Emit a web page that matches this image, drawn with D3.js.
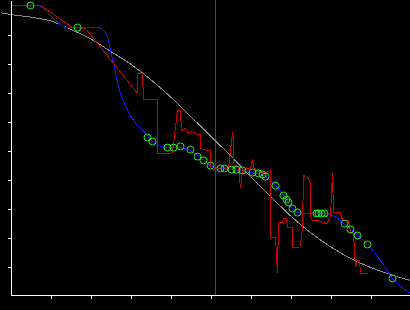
<!DOCTYPE html>
<html>
<head>
<meta charset="utf-8">
<script src="https://cdn.jsdelivr.net/npm/d3@7"></script>
<style>
  html, body { margin: 0; padding: 0; background: #000; }
  svg { display: block; }
  svg path, svg line { shape-rendering: crispEdges; }
</style>
</head>
<body>
<div id="chart"></div>
<script>
// gray smooth reference curve
var grayX = [-0.25, 0, 0.5, 1, 1.5, 2, 2.5, 3, 3.5, 4, 4.5, 5, 5.5, 6, 6.5, 7, 7.5, 8, 8.5, 9, 9.5, 10];
var grayY = [9.75, 9.69, 9.6, 9.47, 9.18, 8.85, 8.42, 7.98, 7.45, 6.85, 6.18, 5.5, 4.82, 4.1, 3.42, 2.75, 2.17, 1.68, 1.28, 0.97, 0.72, 0.52];

// blue fitted curve
var blueX = [0, 0.68, 1.0, 1.25, 1.4, 2.18, 2.25, 2.33, 2.43, 2.5, 2.58, 2.68, 2.75, 2.93, 3.08, 3.38, 3.55, 3.93, 4.25, 4.5, 4.68, 5.0, 5.25, 5.58, 6.0, 6.33, 6.63, 6.83, 7.05, 7.18, 7.43, 7.83, 8.18, 8.33, 8.68, 8.93, 9.25, 9.55, 10];
var blueY = [10, 10, 9.66, 9.34, 9.24, 9.24, 9.21, 9.14, 8.9, 8.45, 8.0, 7.31, 6.97, 6.38, 6.03, 5.59, 5.31, 5.1, 5.1, 5.0, 4.83, 4.48, 4.38, 4.34, 4.24, 4.14, 3.79, 3.45, 3.0, 2.86, 2.83, 2.83, 2.66, 2.48, 2.07, 1.76, 1.21, 0.59, 0.07];

// red raw signal
var redX = [0.25, 0.75, 1.55, 1.875, 3.175, 3.175, 3.3, 3.325, 3.675, 3.675, 4.0, 4.05, 4.175, 4.25, 4.275, 4.375, 4.45, 4.55, 4.65, 4.75, 4.75, 4.925, 5.0, 5.0, 5.075, 5.125, 5.2, 5.3, 5.45, 5.5, 5.55, 5.575, 5.575, 5.7, 5.75, 5.8, 5.9, 6.0, 6.05, 6.075, 6.175, 6.25, 6.375, 6.5, 6.5, 6.625, 6.675, 6.7, 6.8, 6.825, 6.9, 6.925, 7.05, 7.05, 7.2, 7.25, 7.3, 7.325, 7.45, 7.5, 7.5, 7.55, 7.7, 7.8, 7.925, 8.0, 8.05, 8.075, 8.25, 8.3, 8.45, 8.5, 8.575, 8.625, 8.675, 8.725, 8.75, 8.925];
var redY = [10.0, 10.0, 9.24, 9.21, 6.97, 7.66, 7.66, 6.76, 6.76, 4.9, 4.9, 4.93, 6.38, 6.38, 5.69, 5.76, 5.59, 5.66, 5.55, 5.55, 5.07, 5.0, 5.0, 4.41, 4.31, 4.45, 4.38, 4.41, 4.38, 5.0, 5.62, 5.34, 4.55, 4.41, 3.72, 4.31, 4.38, 4.38, 4.72, 4.41, 4.31, 4.24, 4.24, 4.31, 2.0, 2.0, 0.76, 2.52, 2.52, 2.66, 2.66, 2.34, 2.34, 1.66, 1.66, 1.72, 2.34, 4.14, 4.03, 3.86, 2.69, 2.59, 2.59, 2.52, 2.48, 2.76, 4.24, 2.86, 2.86, 2.59, 2.59, 2.14, 2.14, 0.97, 1.21, 1.21, 0.76, 0.76];

// green markers
var markX = [0.5, 1.675, 3.425, 3.55, 3.925, 4.075, 4.25, 4.5, 4.675, 4.825, 5.0, 5.25, 5.35, 5.525, 5.65, 5.8, 6.05, 6.2, 6.3, 6.375, 6.625, 6.825, 6.9, 6.95, 7.05, 7.175, 7.65, 7.7, 7.775, 7.85, 8.35, 8.5, 8.675, 8.925, 9.55];
var markY = [10.0, 9.24, 5.45, 5.31, 5.1, 5.1, 5.14, 5.03, 4.79, 4.66, 4.48, 4.38, 4.38, 4.34, 4.34, 4.31, 4.24, 4.21, 4.17, 4.1, 3.79, 3.45, 3.31, 3.21, 3.0, 2.86, 2.83, 2.83, 2.83, 2.83, 2.48, 2.28, 2.07, 1.76, 0.59];

var xTicks = [1, 2, 3, 4, 5, 6, 7, 8, 9];
var yTicks = [1, 2, 3, 4, 5, 6, 7, 8, 9];
var markerLine = 5.125;

var W = 410, H = 310;
var x = d3.scaleLinear().domain([0, 10]).range([10.5, 410.5]);
var y = d3.scaleLinear().domain([0, 295 / 29]).range([295.5, 0.5]);

var svg = d3.select("#chart").append("svg")
  .attr("width", W)
  .attr("height", H);

svg.append("rect").attr("width", W).attr("height", H).attr("fill", "#000");

function pairs(xs, ys) {
  return xs.map(function(v, i) { return [v, ys[i]]; });
}

var smooth = d3.line()
  .x(function(d) { return x(d[0]); })
  .y(function(d) { return y(d[1]); })
  .curve(d3.curveMonotoneX);

var straight = d3.line()
  .x(function(d) { return x(d[0]); })
  .y(function(d) { return y(d[1]); });

// purple vertical marker
svg.append("line")
  .attr("x1", x(markerLine)).attr("x2", x(markerLine))
  .attr("y1", 0).attr("y2", y(0))
  .attr("stroke", "#8c10b4")
  .attr("stroke-width", 1);

svg.append("path")
  .attr("d", smooth(pairs(grayX, grayY)))
  .attr("fill", "none")
  .attr("stroke", "#8c8c8c")
  .attr("stroke-width", 1);

svg.append("path")
  .attr("d", smooth(pairs(blueX, blueY)))
  .attr("fill", "none")
  .attr("stroke", "#1414ff")
  .attr("stroke-width", 1);

svg.append("path")
  .attr("d", straight(pairs(redX, redY)))
  .attr("fill", "none")
  .attr("stroke", "#c80000")
  .attr("stroke-width", 1);

svg.selectAll("circle.mark")
  .data(pairs(markX, markY))
  .enter()
  .append("circle")
    .attr("class", "mark")
    .attr("cx", function(d) { return x(d[0]); })
    .attr("cy", function(d) { return y(d[1]); })
    .attr("r", 3.5)
    .attr("fill", "none")
    .attr("stroke", "#22ee22")
    .attr("stroke-width", 1);

// axes
var xAxis = svg.append("g")
  .attr("transform", "translate(0," + y(0) + ")")
  .call(d3.axisBottom(x).tickValues(xTicks).tickSize(3).tickSizeOuter(0).tickFormat(""));
var yAxis = svg.append("g")
  .attr("transform", "translate(" + x(0) + ",0)")
  .call(d3.axisLeft(y).tickValues(yTicks).tickSize(3).tickSizeOuter(0).tickFormat(""));

xAxis.select(".domain").attr("d", "M" + x(0) + ",0H" + W);
[xAxis, yAxis].forEach(function(g) {
  g.selectAll("path, line").attr("stroke", "#fff").attr("stroke-width", 1);
});
</script>
</body>
</html>
